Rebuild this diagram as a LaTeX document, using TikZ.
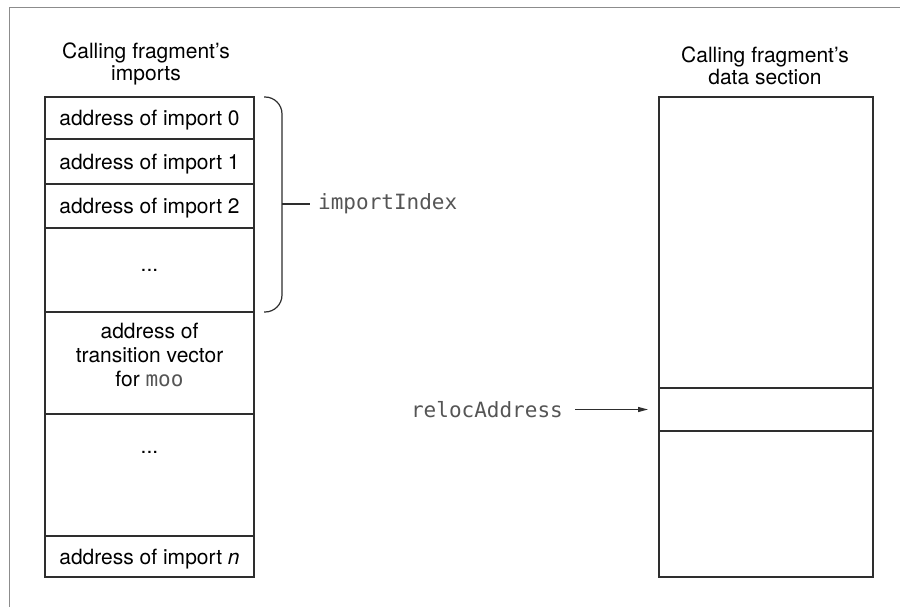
\documentclass[tikz,border=0pt]{standalone}
\usepackage{fontspec}
\setmainfont{TeX Gyre Heros}
\newfontfamily\codefont{DejaVu Sans Mono}
\usepackage{xcolor}
\usetikzlibrary{arrows.meta,positioning}
\definecolor{Ink}{HTML}{2E2E2E}
\definecolor{FrameGray}{HTML}{8C8C8C}
\definecolor{CodeGray}{HTML}{555555}
\newcommand{\code}[1]{{\codefont\color{CodeGray}#1}}

\begin{document}
\begin{tikzpicture}[x=1pt,y=-1pt, every node/.style={font=\fontsize{21}{24}\selectfont},
 cell/.style={draw=Ink,line width=1.3pt,inner sep=0pt,outer sep=0pt,align=center,text depth=0pt},
 lbl/.style={inner sep=0pt,align=center},
 headline/.style={inner sep=0pt,align=center,font=\fontsize{21}{21.5}\selectfont},
 codelbl/.style={inner xsep=8pt,inner ysep=2pt,font=\fontsize{21}{24}\codefont,text=CodeGray},
 brace/.style={Ink,line width=1.2pt,rounded corners=17pt},
 arr/.style={-{Triangle[length=10pt,width=5pt]},line width=1.2pt,Ink}]
\useasboundingbox[fill=white] (0,0) rectangle (900,607);
\draw[FrameGray,line width=1pt] (9,607) -- (9,8) -- (900,8);
% imports table
\node[cell,minimum width=209pt,minimum height=42pt,anchor=north] (imp0) at (149.5,97) {address of import 0};
\node[cell,minimum width=209pt,minimum height=45pt,below=0pt of imp0] (imp1) {address of import 1};
\node[cell,minimum width=209pt,minimum height=44pt,below=0pt of imp1] (imp2) {address of import 2};
\node[cell,minimum width=209pt,minimum height=84pt,below=0pt of imp2] (dots1) {...};
\node[cell,minimum width=209pt,minimum height=102pt,below=0pt of dots1] (tv) {};
\node[cell,minimum width=209pt,minimum height=122pt,below=0pt of tv] (dots2) {};
\node[cell,minimum width=209pt,minimum height=41pt,below=0pt of dots2] (impn) {address of import \textit{n}};
\node[lbl,below=11pt of tv.north] (tvtext) {address of\\transition vector\\for \code{moo}};
\node[lbl,below=37pt of dots2.north] (dotstext) {...};
\node[headline,anchor=south] (imphead) at (146,85) {Calling fragment's\\imports};
% data section
\node[cell,minimum width=214pt,minimum height=291pt,anchor=north] (data) at (766,97) {};
\node[cell,minimum width=214pt,minimum height=43pt,below=0pt of data] (reloc) {};
\node[cell,minimum width=214pt,minimum height=146pt,below=0pt of reloc] (rest) {};
\node[headline,anchor=south] (datahead) at (765,85) {Calling fragment's\\data section};
% brace and labels
\coordinate (bt) at ([xshift=10pt]imp0.north east);
\coordinate (bb) at ([xshift=10pt]dots1.south east);
\coordinate (bm) at (282,204);
\draw[brace] (bt) -| (bm) |- (bb);
\node[codelbl,right=28pt of bm] (idx) {importIndex};
\draw[Ink,line width=1.2pt] (bm) -- (idx);
\node[codelbl,inner xsep=12pt,left=84pt of reloc] (rel) {relocAddress};
\draw[arr,shorten >=11pt] (rel.east) -- (rel.east -| reloc.west);
\end{tikzpicture}
\end{document}
